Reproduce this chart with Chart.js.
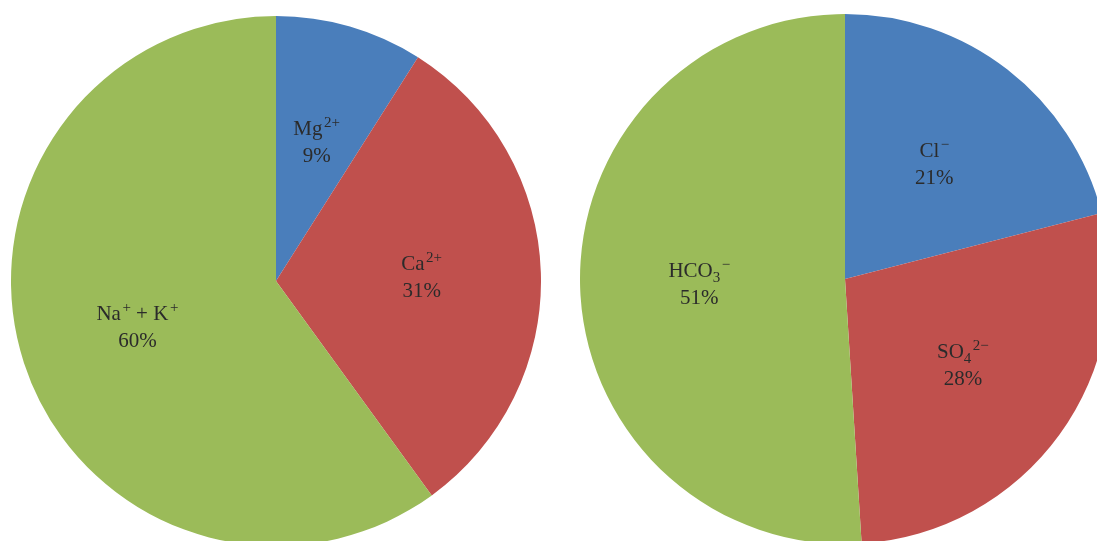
<!DOCTYPE html>
<html>
<head>
<meta charset="utf-8">
<script src="https://cdn.jsdelivr.net/npm/chart.js@4/dist/chart.umd.min.js"></script>
<style>
  html, body { margin: 0; padding: 0; width: 1097px; height: 541px; overflow: hidden; background: #ffffff; }
  canvas { position: absolute; }
  #cations { left: 11px; top: 16px; }
  #anions { left: 580px; top: 14px; }
</style>
</head>
<body>
<canvas id="cations" width="530" height="530"></canvas>
<canvas id="anions" width="530" height="530"></canvas>
<script>
// Ion shares (%). Labels use ^{..} for superscript and _{..} for subscript.
const cationLabels = ['Mg^{2+}', 'Ca^{2+}', 'Na^{+} + K^{+}'];
const cationValues = [9, 31, 60];
const anionLabels = ['Cl^{−}', 'SO_{4}^{2−}', 'HCO_{3}^{−}'];
const anionValues = [21, 28, 51];
const sliceColors = ['#4a7ebb', '#c0504d', '#9bbb59'];

// Split "Mg^{2+}" style markup into runs of normal / sup / sub text.
function parseRuns(s) {
  const runs = [];
  const re = /(\^|_)\{([^}]*)\}|([^\^_]+)/g;
  let m;
  while ((m = re.exec(s)) !== null) {
    if (m[3]) runs.push({ text: m[3], mode: 'normal' });
    else runs.push({ text: m[2], mode: m[1] === '^' ? 'sup' : 'sub' });
  }
  return runs;
}

const FONT_FAMILY = "'Liberation Serif', 'DejaVu Serif', serif";
const BASE_SIZE = 21;
const SMALL_SIZE = 15;

function runFont(mode) {
  return (mode === 'normal' ? BASE_SIZE : SMALL_SIZE) + 'px ' + FONT_FAMILY;
}

function drawRich(ctx, runs, cx, baseline) {
  let total = 0;
  runs.forEach(r => {
    ctx.font = runFont(r.mode);
    r.w = ctx.measureText(r.text).width + (r.mode === 'sup' ? 1.5 : 0);
    total += r.w;
  });
  let x = cx - total / 2;
  runs.forEach(r => {
    ctx.font = runFont(r.mode);
    const dy = r.mode === 'sup' ? -8 : (r.mode === 'sub' ? 5 : 0);
    ctx.fillText(r.text, x + (r.mode === 'sup' ? 1.5 : 0), baseline + dy);
    x += r.w;
  });
}

// Two-line slice labels: ion name and its share, placed inside each slice.
const sliceLabelPlugin = {
  id: 'sliceLabels',
  afterDatasetsDraw(chart) {
    const ctx = chart.ctx;
    const meta = chart.getDatasetMeta(0);
    const values = chart.data.datasets[0].data;
    ctx.save();
    ctx.fillStyle = '#2b2b2b';
    ctx.textBaseline = 'alphabetic';
    ctx.textAlign = 'left';
    meta.data.forEach((arc, i) => {
      const p = arc.getProps(['x', 'y', 'startAngle', 'endAngle', 'outerRadius'], true);
      const mid = (p.startAngle + p.endAngle) / 2;
      const r = p.outerRadius * 0.55;
      const lx = p.x + Math.cos(mid) * r;
      const ly = p.y + Math.sin(mid) * r;
      const lineGap = 27;
      drawRich(ctx, parseRuns(chart.data.labels[i]), lx, ly - lineGap / 2 + 7);
      drawRich(ctx, [{ text: values[i] + '%', mode: 'normal' }], lx, ly + lineGap / 2 + 7);
    });
    ctx.restore();
  }
};

function makePie(id, labels, values) {
  return new Chart(document.getElementById(id), {
    type: 'pie',
    data: {
      labels: labels,
      datasets: [{
        data: values,
        backgroundColor: sliceColors,
        borderWidth: 0
      }]
    },
    options: {
      responsive: false,
      animation: false,
      layout: { padding: 0 },
      plugins: {
        legend: { display: false },
        tooltip: { enabled: false }
      }
    },
    plugins: [sliceLabelPlugin]
  });
}

makePie('cations', cationLabels, cationValues);
makePie('anions', anionLabels, anionValues);
</script>
</body>
</html>
